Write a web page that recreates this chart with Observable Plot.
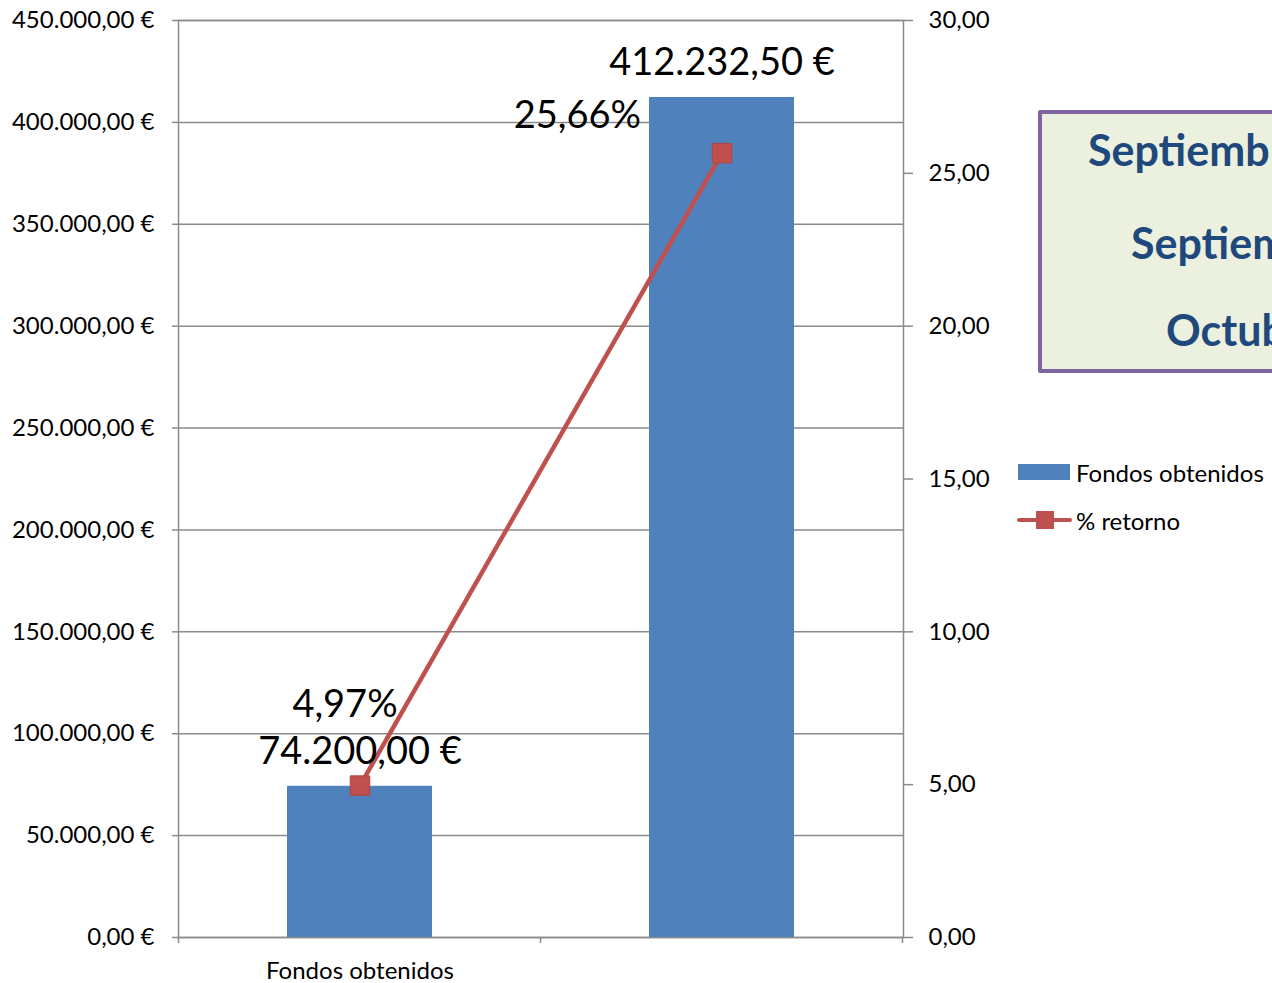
<!DOCTYPE html>
<html><head><meta charset="utf-8">
<script src="https://cdn.jsdelivr.net/npm/d3@7"></script>
<script src="https://cdn.jsdelivr.net/npm/@observablehq/plot@0.6"></script>
<style>
body{margin:0;overflow:hidden;background:#fff;font-family:Lato,sans-serif}
#wrap{position:relative;width:1272px;height:983px;overflow:hidden}
#legend{position:absolute;left:1017px;top:448px;font-size:24px;color:#000}
.li{position:relative;height:48px;display:flex;align-items:center}
.sw{width:52px;height:16px;background:#4F81BD;margin-left:1px;margin-right:6px}
.ln{position:relative;width:55px;height:4px;background:#C0504D;margin-right:4px;border-radius:2px}
.ln i{position:absolute;left:19px;top:-7px;width:18px;height:18px;background:#C0504D}
#box{position:absolute;left:1038px;top:110px;width:420px;height:255px;background:#EBF1DE;border:4px solid #8064A2;border-radius:2px;color:#1F497D;font-weight:700;font-size:43px}
#box div{position:absolute;white-space:nowrap}
</style></head><body><div id="wrap"><div id="chart"></div>
<div id="legend"></div>
<div id="box"></div></div>
<script>
const categories = ["Fondos obtenidos", ""];
const fondos = [74200, 412232.5];
const retorno = [4.97, 25.66];
const leftTicks = [0, 50000, 100000, 150000, 200000, 250000, 300000, 350000, 400000, 450000];
const rightTicks = [0, 5, 10, 15, 20, 25, 30];
const seriesNames = ["Fondos obtenidos", "% retorno"];
const boxLines = ["Septiembre 2011 - 2012", "Septiembre 2012", "Octubre 2012"];

const locale = d3.formatLocale({decimal: ",", thousands: ".", grouping: [3], currency: ["", ""]});
const f2 = locale.format(",.2f");
const euro = v => f2(v) + " €";
const pct = v => f2(v) + "%";

const ratio = leftTicks[leftTicks.length - 1] / rightTicks[rightTicks.length - 1];
const data = categories.map((c, i) => ({cat: c, fondos: fondos[i], retorno: retorno[i]}));

const grey = "#8a8a8a";
const W = 1272, H = 983;
const mL = 178, mR = 369, mT = 20, mB = 46;

// category boundary ticks computed from the x scale
function boundaryTicks(index, scales, values, dim) {
  const x = scales.x;
  const step = x.step ? x.step() : (dim.width - dim.marginLeft - dim.marginRight) / categories.length;
  const g = document.createElementNS("http://www.w3.org/2000/svg", "g");
  const y0 = dim.height - dim.marginBottom;
  const xs = categories.map(c => x(c) + (x.bandwidth ? x.bandwidth() : 0) / 2 - step / 2);
  xs.push(xs[xs.length - 1] + step);
  for (const px of xs) {
    const l = document.createElementNS("http://www.w3.org/2000/svg", "line");
    l.setAttribute("x1", px); l.setAttribute("x2", px);
    l.setAttribute("y1", y0); l.setAttribute("y2", y0 + 6);
    l.setAttribute("stroke", grey); l.setAttribute("stroke-width", 1.5);
    g.appendChild(l);
  }
  return g;
}

const chart = Plot.plot({
  width: W, height: H,
  marginLeft: mL, marginRight: mR, marginTop: mT, marginBottom: mB,
  style: {fontFamily: "Lato, sans-serif", fontSize: "24px", color: "#000", background: "transparent"},
  x: {domain: categories, paddingInner: 0.6, paddingOuter: 0.3, axis: null},
  y: {domain: [0, leftTicks[leftTicks.length - 1]], axis: null},
  marks: [
    Plot.gridY(leftTicks, {stroke: grey, strokeOpacity: 1, strokeWidth: 1.5}),
    Plot.frame({stroke: grey, strokeWidth: 1.5}),
    Plot.barY(data, {x: "cat", y: "fondos", fill: "#4F81BD"}),
    Plot.axisY(leftTicks, {anchor: "left", tickFormat: euro, tickSize: 6, tickPadding: 18, stroke: grey, strokeWidth: 1.5, fontSize: 24, label: null}),
    Plot.axisY(rightTicks.map(t => t * ratio), {anchor: "right", tickFormat: d => f2(d / ratio), tickSize: 9, tickPadding: 16, stroke: grey, strokeWidth: 1.5, fontSize: 24, label: null}),
    Plot.axisX(categories, {anchor: "bottom", tickSize: 0, tickPadding: 24, fontSize: 24, label: null}),
    boundaryTicks,
    Plot.line(data, {x: "cat", y: d => d.retorno * ratio, stroke: "#C0504D", strokeWidth: 4.5}),
    Plot.dot(data, {x: "cat", y: d => d.retorno * ratio, symbol: "square", r: 11, fill: "#C0504D", stroke: "#B04540", strokeWidth: 1}),
    Plot.text(data, {x: "cat", y: "fondos", text: d => euro(d.fondos), lineAnchor: "bottom", dy: -22, fontSize: 38}),
    Plot.text(data.slice(0, 1), {x: "cat", y: d => d.retorno * ratio, text: d => pct(d.retorno), lineAnchor: "bottom", dy: -69, dx: -15, fontSize: 38}),
    Plot.text(data.slice(1), {x: "cat", y: d => d.retorno * ratio, text: d => pct(d.retorno), lineAnchor: "bottom", textAnchor: "end", dy: -25, dx: -81, fontSize: 38})
  ]
});
document.getElementById("chart").appendChild(chart);

const leg = document.getElementById("legend");
leg.innerHTML = `<div class="li"><span class="sw"></span><span>${seriesNames[0]}</span></div>
<div class="li"><span class="ln"><i></i></span><span>${seriesNames[1]}</span></div>`;

const box = document.getElementById("box");
const lefts = [46, 89, 124], tops = [10, 103, 190];
boxLines.forEach((t, i) => {
  const d = document.createElement("div");
  d.textContent = t; d.style.left = lefts[i] + "px"; d.style.top = tops[i] + "px";
  box.appendChild(d);
});
</script></body></html>
